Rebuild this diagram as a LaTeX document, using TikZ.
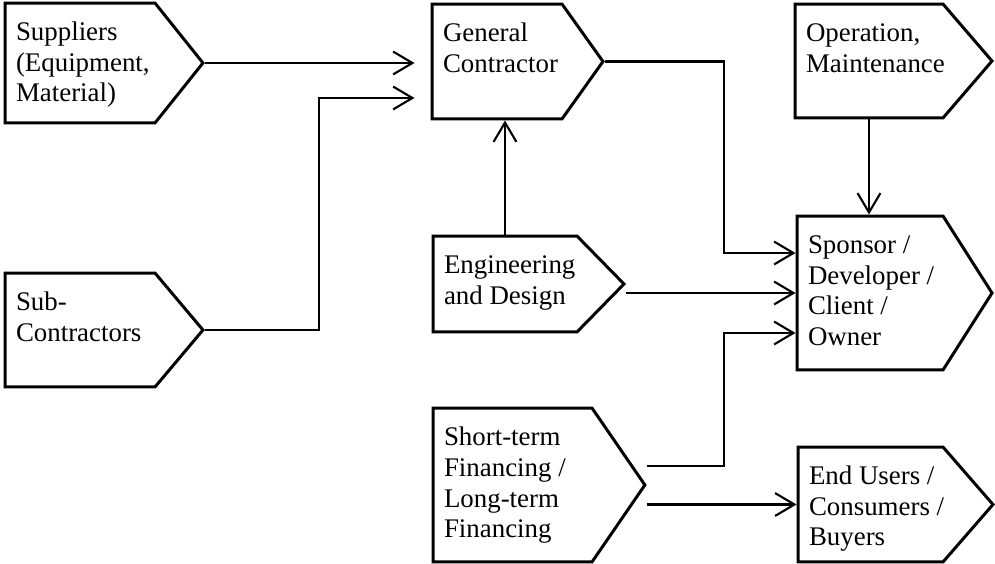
\documentclass[tikz,border=0pt]{standalone}
\usepackage{fontspec}
\setmainfont{Liberation Serif}
\usetikzlibrary{shapes.symbols,arrows.meta}
\newcommand{\boxtext}[3]{\parbox[t][\dimexpr#2cm-0.62cm\relax][t]{\dimexpr#1cm-0.44cm\relax}{\begin{tabular}[t]{@{}l@{}}#3\end{tabular}}}
\begin{document}
\begin{tikzpicture}[x=0.02cm,y=-0.02cm,
	blk/.style={signal, signal to=east, draw, line width=1.7pt, inner xsep=0.22cm, inner ysep=0.31cm, font=\fontsize{15.3}{17.6}\selectfont},
	conn/.style={line width=1.2pt, -{Straight Barb[length=11pt,width=13pt]}}]
	\useasboundingbox (0,0) rectangle (995,564);
	\node[blk, signal pointer angle=102.7] (sup) at (80,63) {\boxtext{3.0}{2.4}{Suppliers\\(Equipment,\\Material)}};
	\node[blk, signal pointer angle=99.8] (sub) at (80,330) {\boxtext{3.0}{2.28}{Sub-\\Contractors}};
	\node[blk, signal pointer angle=109] (gc) at (497,61.5) {\boxtext{2.6}{2.3}{General\\Contractor}};
	\node[blk, signal pointer angle=91.2] (ed) at (505,284) {\boxtext{2.88}{1.92}{Engineering\\and Design}};
	\node[blk, signal pointer angle=111] (stf) at (512.5,485) {\boxtext{3.18}{3.08}{Short-term\\Financing /\\Long-term\\Financing}};
	\node[blk, signal pointer angle=98.6] (om) at (869,61) {\boxtext{2.96}{2.28}{Operation,\\Maintenance}};
	\node[blk, signal pointer angle=115] (spo) at (870,293) {\boxtext{2.92}{3.08}{Sponsor /\\Developer /\\Client /\\Owner}};
	\node[blk, signal pointer angle=98] (eu) at (870.5,504.5) {\boxtext{2.9}{2.3}{End Users /\\Consumers /\\Buyers}};
	\draw[conn, shorten >=0.32cm] (sup.east) -- (sup.east -| gc.west);
	\draw[conn, shorten >=0.32cm] (sub.east) -- ++(114,0) |- ([yshift=-0.73cm]gc.west);
	\draw[conn] (gc.east) -- ++(119,0) |- ([yshift=0.8cm]spo.west);
	\draw[conn] (ed.north) -- (ed.north |- gc.south);
	\draw[conn] (spo.west -| ed.east) -- (spo.west);
	\draw[conn] (om.south) -- (om.south |- spo.north);
	\draw[conn] ([yshift=0.38cm]stf.east) -- ++(77,0) |- ([yshift=-0.8cm]spo.west);
	\draw[conn] (eu.west -| stf.east) -- (eu.west);
\end{tikzpicture}
\end{document}
